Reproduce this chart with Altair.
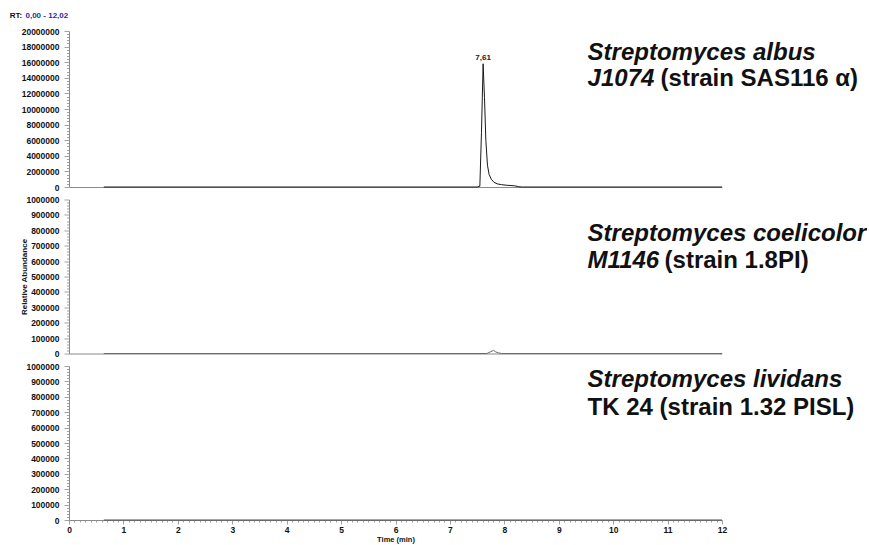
import altair as alt
import pandas as pd

FONT = "Liberation Sans"

# ---------------- data ----------------
# Panel 1: Streptomyces albus J1074 (strain SAS116 alpha)
t_albus = [0.64, 7.50, 7.55, 7.58, 7.61, 7.635, 7.66, 7.69, 7.72, 7.76, 7.81, 7.87, 7.95, 8.05, 8.18, 8.26, 8.32, 12.0]
i_albus = [0, 0, 100000, 7000000, 15800000, 11500000, 6000000, 2800000, 1600000, 1000000, 600000, 400000,
           300000, 220000, 160000, 50000, 0, 0]

# Panel 2: Streptomyces coelicolor M1146 (strain 1.8PI)
t_coel = [0.64, 7.68, 7.74, 7.80, 7.84, 7.89, 7.95, 12.0]
i_coel = [0, 0, 10000, 20000, 11000, 4000, 0, 0]

# Panel 3: Streptomyces lividans TK 24 (strain 1.32 PISL)
t_livid = [0.64, 12.0]
i_livid = [0, 0]

peak_time = [7.61]
peak_value = [15800000]
peak_text = ["7,61"]

x_domain = [0, 12]
y_top_domain = [0, 20000000]
y_low_domain = [0, 1000000]

rt_label = "RT:"
rt_range = "0,00 - 12,02"

# annotation text: (italic lines, normal part)
albus_italic = ["Streptomyces albus", "J1074"]
albus_normal = ["(strain SAS116 \u03b1)"]
coel_italic = ["Streptomyces coelicolor", "M1146"]
coel_normal = ["(strain 1.8PI)"]
livid_italic = ["Streptomyces lividans"]
livid_normal = ["TK 24 (strain 1.32 PISL)"]

# annotation anchor (data coordinates)
note_t = 9.53
albus_note_v = [16280000, 12950000]
coel_note_v = [729000, 558000]
livid_note_v = [864000, 682000]

W = 653
BIG = 24
AX_GREY = "#8a8a8a"
LBL = 8.5


def y_axis(step, minor, maxv, title=None):
    vals = [i * minor for i in range(int(round(maxv / minor)) + 1)]
    kw = dict(
        values=vals,
        format="d",
        labelExpr=f"datum.value % {step} === 0 ? datum.label : ''",
        tickSize={"condition": {"test": f"datum.value % {step} === 0", "value": 5}, "value": 2.5},
        tickColor=AX_GREY,
        tickWidth=0.8,
        domainColor=AX_GREY,
        domainWidth=1,
        labelFont=FONT,
        labelFontSize=LBL,
        labelFontWeight="bold",
        labelColor="#111",
        labelPadding=5,
        labelOverlap=False,
        labelFlush=False,
        grid=False,
        title=title if title else None,
    )
    if title:
        kw.update(titleFont=FONT, titleFontSize=8, titleFontWeight="bold", titleColor="#111",
                  titleAngle=270, titleBaseline="middle", titleX=-44.5, titleY=77)
    return alt.Axis(**kw)


def x_axis_plain():
    return alt.Axis(labels=False, ticks=False, title=None, domainColor=AX_GREY, domainWidth=1, grid=False)


def x_axis_bottom():
    vals = [i / 10 for i in range(0, 121)]
    return alt.Axis(
        values=vals,
        format=".0f",
        labelExpr="abs(datum.value - round(datum.value)) < 0.001 ? datum.label : ''",
        tickSize={"condition": {"test": "abs(datum.value - round(datum.value)) < 0.001", "value": 4}, "value": 2},
        tickColor=AX_GREY,
        tickWidth=0.8,
        domainColor=AX_GREY,
        labelFont=FONT,
        labelFontSize=LBL,
        labelFontWeight="bold",
        labelColor="#111",
        labelPadding=1,
        labelOverlap=False,
        labelFlush=False,
        grid=False,
        title="Time (min)",
        titleFont=FONT,
        titleFontSize=7.5,
        titleFontWeight="bold",
        titleColor="#111",
        titlePadding=2,
    )


def panel(t, v, ydom, yax, xax, color, italic, normal, note_v, normal_dx, normal_row, height, extra=None):
    xs = alt.Scale(domain=x_domain, nice=False, zero=False)
    ys = alt.Scale(domain=ydom, nice=False)

    def enc(ch):
        return ch.encode(
            x=alt.X("t:Q", scale=xs, axis=xax),
            y=alt.Y("v:Q", scale=ys, axis=yax),
        )

    df = pd.DataFrame({"t": t, "v": v})
    base = enc(alt.Chart(df).mark_line(color=color, strokeWidth=1))
    it_df = pd.DataFrame({"t": [note_t] * len(italic), "v": note_v[:len(italic)], "label": italic})
    it = enc(alt.Chart(it_df).mark_text(font=FONT, fontSize=BIG, fontWeight="bold", fontStyle="italic",
                                        align="left", baseline="alphabetic", color="#111")).encode(text="label:N")
    nm_df = pd.DataFrame({"t": [note_t], "v": [note_v[normal_row]], "label": normal})
    nm = enc(alt.Chart(nm_df).mark_text(font=FONT, fontSize=BIG, fontWeight="bold",
                                        align="left", baseline="alphabetic", dx=normal_dx,
                                        color="#111")).encode(text="label:N")
    layers = [base, it, nm]
    if extra:
        for df_e, mk in extra:
            layers.append(enc(alt.Chart(df_e).mark_text(**mk)).encode(text="label:N"))
    return alt.layer(*layers).properties(width=W, height=height)


# extras for top panel: peak label and RT header
pk_df = pd.DataFrame({"t": peak_time, "v": peak_value, "label": peak_text})
pk_mark = dict(font=FONT, fontSize=8, fontWeight="bold", color="#222", baseline="bottom", dy=-2)

rt_df = pd.DataFrame({"t": [x_domain[0]], "v": [y_top_domain[1]], "label": [rt_label]})
rt1_mark = dict(font=FONT, fontSize=8, fontWeight="bold", color="#111",
                align="left", baseline="middle", dx=-59.2, dy=-15)
rt2_df = pd.DataFrame({"t": [x_domain[0]], "v": [y_top_domain[1]], "label": [rt_range]})
rt2_mark = dict(font=FONT, fontSize=8, fontWeight="bold", color="#2a2aa8",
                align="left", baseline="middle", dx=-43.5, dy=-15)

top = panel(t_albus, i_albus, y_top_domain, y_axis(2000000, 400000, 20000000), x_axis_plain(),
            "#1a1a1a", albus_italic, albus_normal, albus_note_v, 73, 1, 156,
            extra=[(pk_df, pk_mark), (rt_df, rt1_mark), (rt2_df, rt2_mark)])
mid = panel(t_coel, i_coel, y_low_domain, y_axis(100000, 20000, 1000000, title="Relative Abundance"),
            x_axis_plain(), "#6a6a6a", coel_italic, coel_normal, coel_note_v, 77, 1, 154)
bot = panel(t_livid, i_livid, y_low_domain, y_axis(100000, 20000, 1000000), x_axis_bottom(),
            "#4a4a4a", livid_italic, livid_normal, livid_note_v, 0, 1, 154)

chart = alt.vconcat(top, mid, bot, spacing=12.5).properties(
    bounds="flush",
    padding={"left": 9, "top": 12, "right": 0, "bottom": 6},
    background="white",
).configure_view(stroke=None)

chart.save("out.html", embed_options={"renderer": "svg", "actions": False})
